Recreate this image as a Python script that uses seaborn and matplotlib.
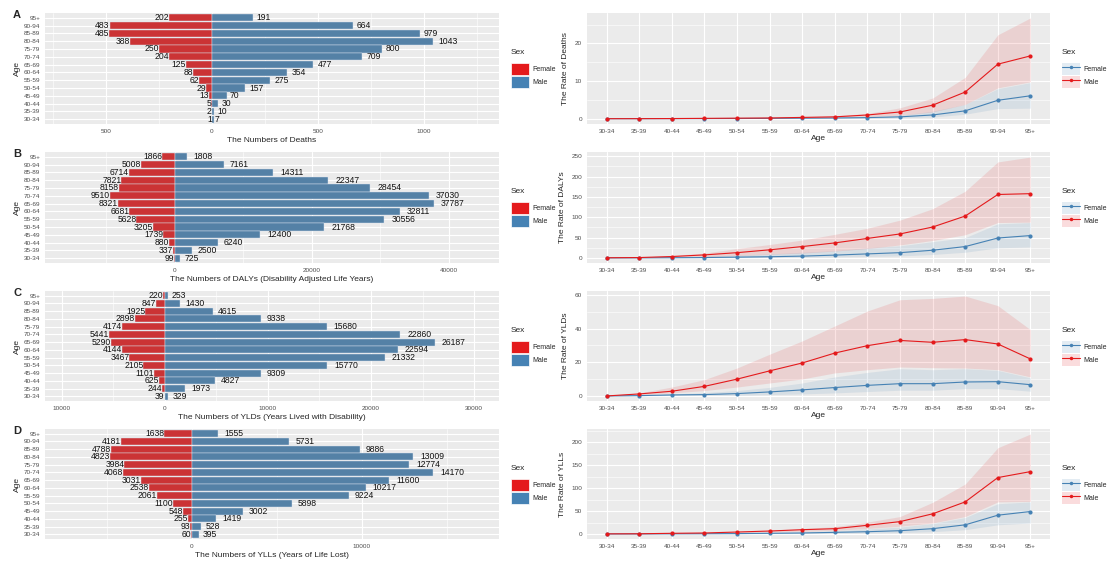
import matplotlib
matplotlib.use("Agg")
import matplotlib.pyplot as plt
import pandas as pd
import seaborn as sns
from matplotlib.patches import Patch
from matplotlib.lines import Line2D
from matplotlib.legend_handler import HandlerTuple
from matplotlib.ticker import MultipleLocator, FuncFormatter

# -------------------------------------------------------
# Data (age groups ascending)
# -------------------------------------------------------
AGES = ["30-34", "35-39", "40-44", "45-49", "50-54", "55-59", "60-64",
        "65-69", "70-74", "75-79", "80-84", "85-89", "90-94", "95+"]

deaths_female = [1, 2, 5, 13, 29, 62, 88, 125, 204, 250, 388, 485, 483, 202]
deaths_male = [7, 10, 30, 70, 157, 275, 354, 477, 709, 800, 1043, 979, 664, 191]
dalys_female = [99, 337, 880, 1739, 3205, 5628, 6681, 8321, 9510, 8158, 7821, 6714, 5008, 1866]
dalys_male = [725, 2500, 6240, 12400, 21768, 30556, 32811, 37787, 37030, 28454, 22347, 14311, 7161, 1808]
ylds_female = [39, 244, 625, 1101, 2105, 3467, 4144, 5290, 5441, 4174, 2898, 1925, 847, 220]
ylds_male = [329, 1973, 4827, 9309, 15770, 21332, 22594, 26187, 22860, 15680, 9338, 4615, 1430, 253]
ylls_female = [60, 93, 255, 548, 1100, 2061, 2538, 3031, 4068, 3984, 4823, 4788, 4181, 1638]
ylls_male = [395, 528, 1419, 3002, 5898, 9224, 10217, 11600, 14170, 12774, 13009, 9886, 5731, 1555]

# rates with lower / upper bounds
deaths_rate_m = [0.01, 0.02, 0.05, 0.1, 0.15, 0.2, 0.35, 0.5, 1.0, 1.8, 3.6, 7.1, 14.5, 16.7]
deaths_rate_m_lo = [0.0, 0.01, 0.03, 0.06, 0.09, 0.12, 0.2, 0.3, 0.6, 0.9, 1.8, 3.8, 8.2, 9.8]
deaths_rate_m_hi = [0.02, 0.04, 0.08, 0.15, 0.22, 0.3, 0.5, 0.75, 1.4, 2.9, 5.5, 11.0, 22.3, 26.8]
deaths_rate_f = [0.0, 0.01, 0.02, 0.04, 0.06, 0.1, 0.15, 0.2, 0.3, 0.5, 1.0, 2.1, 4.9, 6.1]
deaths_rate_f_lo = [0.0, 0.0, 0.01, 0.02, 0.03, 0.05, 0.08, 0.1, 0.15, 0.25, 0.45, 1.2, 2.7, 2.8]
deaths_rate_f_hi = [0.01, 0.02, 0.04, 0.07, 0.1, 0.15, 0.22, 0.3, 0.45, 0.9, 2.0, 3.8, 8.0, 9.6]

dalys_rate_m = [0.5, 1, 3.5, 7.5, 13, 20, 28, 37, 48, 59, 76, 103, 156, 158]
dalys_rate_m_lo = [0.2, 0.5, 1.5, 3, 6, 9, 12, 17, 23, 32, 43, 57, 87, 88]
dalys_rate_m_hi = [0.8, 2, 6, 12, 23, 33, 44, 58, 73, 93, 121, 164, 236, 248]
dalys_rate_f = [0.1, 0.3, 0.6, 1, 2, 3, 4.5, 7, 10, 13, 19, 28, 49, 55]
dalys_rate_f_lo = [0, 0.1, 0.2, 0.4, 0.8, 1.2, 2, 2.5, 3.5, 5, 8.5, 14, 25, 27]
dalys_rate_f_hi = [0.3, 0.8, 2, 4, 7, 10, 14, 18, 25, 30, 40, 50, 84, 87]

ylds_rate_m = [0, 1.2, 2.8, 5.7, 10, 14.9, 19.6, 25.5, 29.9, 33, 31.9, 33.5, 30.9, 22]
ylds_rate_m_lo = [0, 0.8, 1.8, 3.2, 5.3, 7.7, 10.1, 13.7, 15.6, 17.2, 16.8, 16.6, 15.6, 11.3]
ylds_rate_m_hi = [0.2, 1.8, 5.3, 9.7, 16.6, 24.8, 32.7, 41.6, 50.5, 57.2, 58, 59.4, 53.7, 39.4]
ylds_rate_f = [0, 0.2, 0.6, 0.8, 1.4, 2.4, 3.6, 5, 6.3, 7.3, 7.3, 8.3, 8.5, 6.7]
ylds_rate_f_lo = [0, 0.1, 0.3, 0.4, 0.4, 0.8, 1.2, 1.8, 2.6, 3.4, 3.4, 4.4, 4.4, 2.8]
ylds_rate_f_hi = [0.1, 0.5, 1.2, 2, 3.2, 5.1, 7.7, 11.3, 14, 16.2, 15.6, 16.2, 15.2, 10.8]

ylls_rate_m = [0.3, 0.5, 1.5, 2.2, 4.3, 6.5, 9.4, 11.6, 19, 27, 44, 70, 123, 136]
ylls_rate_m_lo = [0.2, 0.3, 1, 1.5, 3, 4.3, 6, 8, 12, 17, 24, 38, 70, 71]
ylls_rate_m_hi = [0.5, 0.8, 2, 3, 5, 8, 12, 16, 26, 38, 69, 109, 188, 218]
ylls_rate_f = [0.1, 0.2, 0.4, 0.6, 0.9, 1.5, 2.2, 3.6, 5, 7.2, 11.6, 20, 41, 49]
ylls_rate_f_lo = [0, 0.1, 0.2, 0.3, 0.4, 0.7, 1, 1.5, 2.2, 2.9, 5, 9.4, 20, 24]
ylls_rate_f_hi = [0.2, 0.4, 0.8, 1.2, 2, 3.6, 5, 7, 11, 15, 23, 36, 66, 70]

RED = "#E41A1C"
BLUE = "#4682B4"
BG = "#EBEBEB"
TICK = "#4D4D4D"

sns.set_style("white")
plt.rcParams["font.family"] = ["Liberation Sans", "DejaVu Sans"]

W, H = 1107, 563
fig = plt.figure(figsize=(W / 100, H / 100), dpi=100)


def px_axes(x0, y0, x1, y1):
    return fig.add_axes([x0 / W, 1 - y1 / H, (x1 - x0) / W, (y1 - y0) / H])


def style(ax):
    ax.set_facecolor(BG)
    ax.set_axisbelow(True)
    for s in ax.spines.values():
        s.set_visible(False)
    ax.tick_params(which="major", length=2, width=0.5, color="#333333",
                   labelsize=4.6, labelcolor=TICK, pad=1.5)
    ax.tick_params(which="minor", length=0)
    ax.grid(which="major", color="white", lw=0.8)
    ax.grid(which="minor", color="white", lw=0.4)


def pyramid(ax, female, male, xlim, major, xlabel):
    order = AGES[::-1]
    df = pd.DataFrame({
        "Age": AGES * 2,
        "Sex": ["Female"] * len(AGES) + ["Male"] * len(AGES),
        "value": [-v for v in female] + list(male),
    })
    sns.barplot(data=df, x="value", y="Age", hue="Sex", order=order,
                hue_order=["Female", "Male"], dodge=False, orient="h",
                palette={"Female": RED, "Male": BLUE}, width=0.93,
                edgecolor="#DCE6F0", linewidth=0.3, errorbar=None,
                legend=False, ax=ax)
    for age, f, m in zip(AGES, female, male):
        pos = order.index(age)
        ax.annotate(str(f), (-f, pos), xytext=(0, 0), textcoords="offset points",
                    ha="right", va="center", fontsize=6.2, color="#111111")
        ax.annotate(str(m), (m, pos), xytext=(0.3 * len(str(m)) * 3.45, 0),
                    textcoords="offset points", ha="left", va="center",
                    fontsize=6.2, color="#111111")
    style(ax)
    ax.set_xlim(*xlim)
    ax.set_ylim(len(AGES) - 0.4, -0.6)
    ax.xaxis.set_major_locator(MultipleLocator(major))
    ax.xaxis.set_minor_locator(MultipleLocator(major / 2))
    ax.xaxis.set_major_formatter(FuncFormatter(lambda v, p: f"{abs(int(round(v)))}"))
    ax.set_xlabel(xlabel, fontsize=6, labelpad=2)
    ax.set_ylabel("Age", fontsize=6, labelpad=2)
    ax.grid(axis="y", which="major", color="white", lw=0.8)


def rates(ax, f, f_lo, f_hi, m, m_lo, m_hi, ylim, major, ylabel):
    df = pd.DataFrame({
        "Age": AGES * 2,
        "Sex": ["Female"] * len(AGES) + ["Male"] * len(AGES),
        "rate": list(f) + list(m),
    })
    sns.lineplot(data=df, x="Age", y="rate", hue="Sex",
                 hue_order=["Female", "Male"],
                 palette={"Female": BLUE, "Male": RED}, marker="o",
                 markersize=3, markeredgewidth=0, lw=0.8, legend=False,
                 ax=ax, zorder=3)
    ax.fill_between(AGES, f_lo, f_hi, color=BLUE, alpha=0.12, lw=0, zorder=2)
    ax.fill_between(AGES, m_lo, m_hi, color=RED, alpha=0.12, lw=0, zorder=2)
    style(ax)
    ax.set_xlim(-0.6, len(AGES) - 0.4)
    ax.set_ylim(*ylim)
    ax.yaxis.set_major_locator(MultipleLocator(major))
    ax.yaxis.set_minor_locator(MultipleLocator(major / 2))
    ax.set_xlabel("Age", fontsize=6, labelpad=1)
    ax.set_ylabel(ylabel, fontsize=6, labelpad=4)


def finish_legend(leg):
    leg._legend_box.align = "left"
    leg._legend_box.sep = 5


def legend_bars(ax, top):
    handles = [Patch(facecolor=RED, edgecolor="white", lw=0.5),
               Patch(facecolor=BLUE, edgecolor="white", lw=0.5)]
    leg = ax.legend(handles, ["Female", "Male"], title="Sex", loc="upper left",
                    bbox_to_anchor=(511 / W, 1 - top / H), bbox_transform=fig.transFigure,
                    frameon=False, fontsize=5, title_fontsize=6, handlelength=2.6,
                    handleheight=2.4, labelspacing=0.05, handletextpad=0.5,
                    borderpad=0, borderaxespad=0)
    finish_legend(leg)


def legend_lines(ax, top):
    handles = [(Patch(facecolor=(0.27, 0.51, 0.71, 0.15), lw=0),
                Line2D([], [], color=BLUE, marker="o", ms=2.5, mew=0, lw=0.8)),
               (Patch(facecolor=(0.89, 0.10, 0.11, 0.15), lw=0),
                Line2D([], [], color=RED, marker="o", ms=2.5, mew=0, lw=0.8))]
    leg = ax.legend(handles, ["Female", "Male"], title="Sex", loc="upper left",
                    bbox_to_anchor=(1062 / W, 1 - top / H), bbox_transform=fig.transFigure,
                    handler_map={tuple: HandlerTuple(ndivide=1, pad=0)},
                    frameon=False, fontsize=5, title_fontsize=6, handlelength=2.6,
                    handleheight=2.4, labelspacing=0.05, handletextpad=0.5,
                    borderpad=0, borderaxespad=0)
    finish_legend(leg)


rows = [(13, 124), (152, 263), (291, 401), (429, 539)]
leg_tops = [49, 188, 327, 465]

pyr_specs = [
    (deaths_female, deaths_male, (-788, 1354), 500, "The Numbers of Deaths"),
    (dalys_female, dalys_male, (-18978, 47300), 20000,
     "The Numbers of DALYs (Disability Adjusted Life Years)"),
    (ylds_female, ylds_male, (-11650, 32427), 10000,
     "The Numbers of YLDs (Years Lived with Disability)"),
    (ylls_female, ylls_male, (-8650, 18060), 10000,
     "The Numbers of YLLs (Years of Life Lost)"),
]
rate_specs = [
    (deaths_rate_f, deaths_rate_f_lo, deaths_rate_f_hi, deaths_rate_m, deaths_rate_m_lo,
     deaths_rate_m_hi, (-1.4, 28.1), 10, "The Rate of Deaths"),
    (dalys_rate_f, dalys_rate_f_lo, dalys_rate_f_hi, dalys_rate_m, dalys_rate_m_lo,
     dalys_rate_m_hi, (-12.4, 260.4), 50, "The Rate of DALYs"),
    (ylds_rate_f, ylds_rate_f_lo, ylds_rate_f_hi, ylds_rate_m, ylds_rate_m_lo,
     ylds_rate_m_hi, (-3.0, 62.4), 20, "The Rate of YLDs"),
    (ylls_rate_f, ylls_rate_f_lo, ylls_rate_f_hi, ylls_rate_m, ylls_rate_m_lo,
     ylls_rate_m_hi, (-10.9, 228.9), 50, "The Rate of YLLs"),
]

for i, ((y0, y1), letter) in enumerate(zip(rows, "ABCD")):
    axl = px_axes(45, y0, 499, y1)
    pyramid(axl, *pyr_specs[i])
    legend_bars(axl, leg_tops[i])
    axr = px_axes(587, y0, 1050, y1)
    rates(axr, *rate_specs[i])
    legend_lines(axr, leg_tops[i])
    fig.text(13 / W, 1 - (y0 + 2) / H, letter, fontsize=8, fontweight="bold",
             ha="left", va="center")

fig.savefig("out.png", dpi=100)
